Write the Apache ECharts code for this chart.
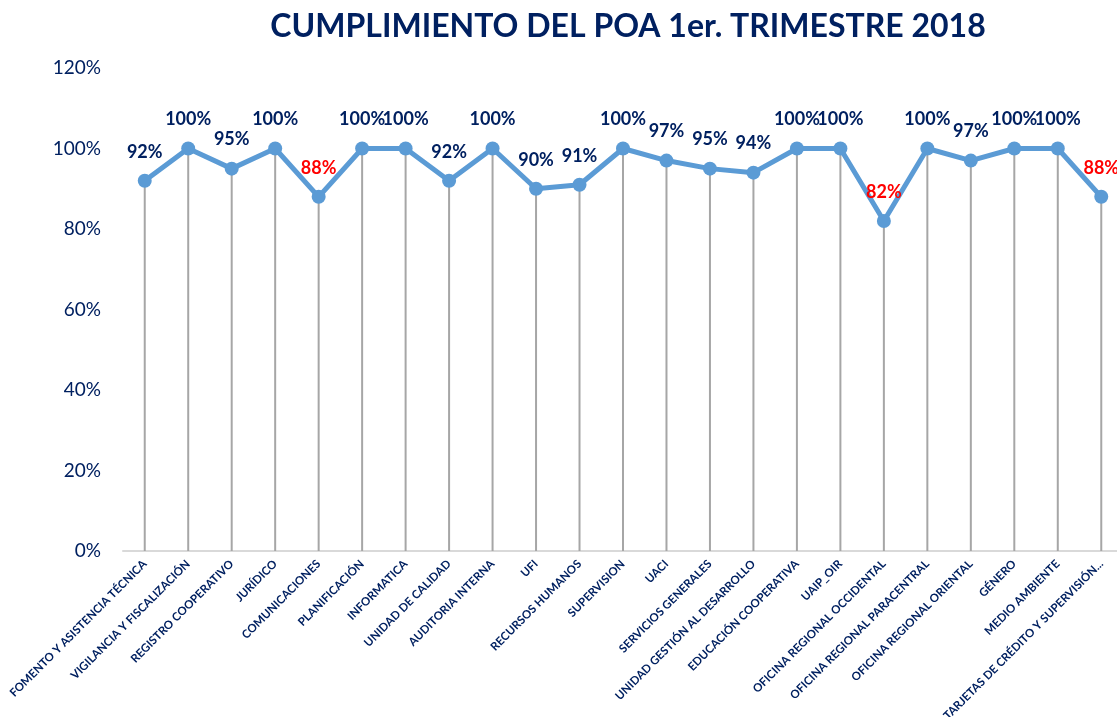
<!DOCTYPE html>
<html lang="es">
<head>
    <meta charset="UTF-8">
    <title>Cumplimiento del POA</title>
    <script src="https://cdn.jsdelivr.net/npm/echarts@6/dist/echarts.min.js"></script>
    <style>
        html, body { margin: 0; padding: 0; background: #ffffff; overflow: hidden; }
        /* un poco más ancho que la ventana: el último punto queda junto al borde */
        #chart { width: 1130px; height: 717px; }
    </style>
</head>
<body>
    <div id="chart"></div>
    <script>
        // unidades
        var categories = [
            'FOMENTO Y ASISTENCIA TÉCNICA', 'VIGILANCIA Y FISCALIZACIÓN', 'REGISTRO COOPERATIVO',
            'JURÍDICO', 'COMUNICACIONES', 'PLANIFICACIÓN', 'INFORMATICA', 'UNIDAD DE CALIDAD',
            'AUDITORIA INTERNA', 'UFI', 'RECURSOS HUMANOS', 'SUPERVISION', 'UACI',
            'SERVICIOS GENERALES', 'UNIDAD GESTIÓN AL DESARROLLO', 'EDUCACIÓN COOPERATIVA',
            'UAIP_OIR', 'OFICINA REGIONAL OCCIDENTAL', 'OFICINA REGIONAL PARACENTRAL',
            'OFICINA REGIONAL ORIENTAL', 'GÉNERO', 'MEDIO AMBIENTE', 'TARJETAS DE CRÉDITO Y SUPERVISIÓN...'
        ];
        // % de cumplimiento
        var cumplimiento = [92, 100, 95, 100, 88, 100, 100, 92, 100, 90, 91, 100, 97, 95, 94, 100, 100, 82, 100, 97, 100, 100, 88];
        var yTicks = [0, 20, 40, 60, 80, 100, 120];

        var navy = '#002060';
        var chart = echarts.init(document.getElementById('chart'));

        var lineData = cumplimiento.map(function (v) {
            return {
                value: v,
                label: { color: v < 90 ? '#FF0000' : navy }
            };
        });

        chart.setOption({
            animation: false,
            title: {
                text: 'CUMPLIMIENTO DEL POA 1er. TRIMESTRE 2018',
                left: 623,
                top: 6,
                textAlign: 'center',
                textStyle: { color: navy, fontSize: 32, fontWeight: 'bold', fontFamily: 'Lato' }
            },
            grid: { left: 123, top: 68, width: 1000, bottom: 166, outerBoundsMode: 'none', containLabel: false },
            xAxis: {
                type: 'category',
                data: categories,
                boundaryGap: true,
                axisLine: { lineStyle: { color: '#D9D9D9', width: 2 } },
                axisTick: { show: false },
                axisLabel: {
                    interval: 0,
                    rotate: 45,
                    margin: 11,
                    color: navy,
                    fontSize: 11.5,
                    fontWeight: 'bold',
                    fontFamily: 'Lato'
                }
            },
            yAxis: {
                type: 'value',
                min: yTicks[0],
                max: yTicks[yTicks.length - 1],
                interval: 20,
                splitLine: { show: false },
                axisLine: { show: false },
                axisTick: { show: false },
                axisLabel: {
                    formatter: '{value}%',
                    color: navy,
                    fontSize: 19,
                    margin: 22,
                    fontFamily: 'Lato'
                }
            },
            series: [
                {
                    // líneas de caída
                    type: 'bar',
                    data: cumplimiento,
                    barWidth: 2,
                    itemStyle: { color: '#A6A6A6' },
                    silent: true,
                    z: 1
                },
                {
                    type: 'line',
                    data: lineData,
                    symbol: 'circle',
                    symbolSize: 14,
                    lineStyle: { color: '#5B9BD5', width: 5 },
                    itemStyle: { color: '#5B9BD5' },
                    label: {
                        show: true,
                        position: 'top',
                        distance: 13,
                        formatter: '{c}%',
                        fontSize: 18,
                        fontWeight: 'bold',
                        fontFamily: 'Lato'
                    },
                    z: 3
                }
            ]
        });
    </script>
</body>
</html>
